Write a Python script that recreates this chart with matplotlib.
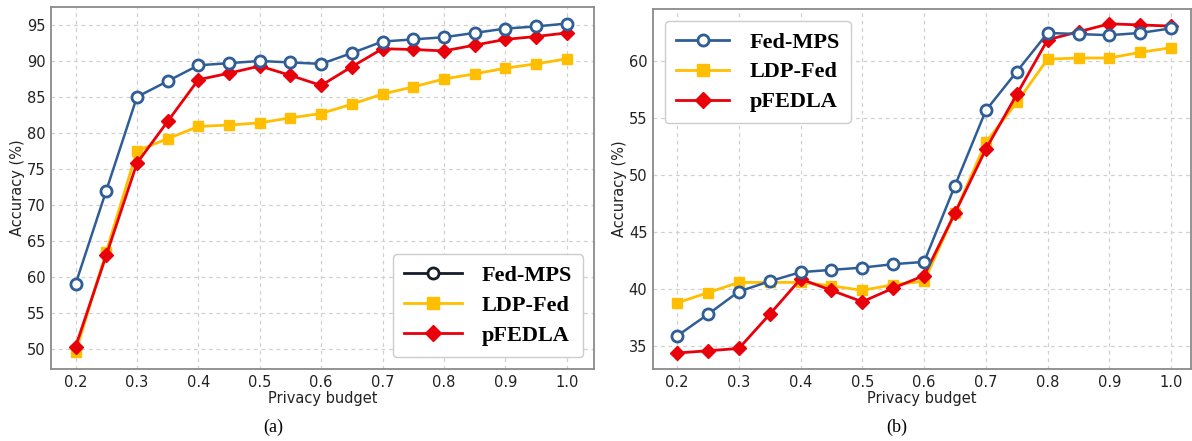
import matplotlib
matplotlib.use("Agg")
import matplotlib.pyplot as plt
from matplotlib.lines import Line2D

budget = [0.2, 0.25, 0.3, 0.35, 0.4, 0.45, 0.5, 0.55, 0.6, 0.65, 0.7, 0.75, 0.8, 0.85, 0.9, 0.95, 1.0]
xticks = [0.2, 0.3, 0.4, 0.5, 0.6, 0.7, 0.8, 0.9, 1.0]

a_fedmps = [59.0, 72.0, 85.0, 87.2, 89.4, 89.7, 90.0, 89.8, 89.6, 91.1, 92.7, 93.0, 93.3, 93.9, 94.5, 94.8, 95.2]
a_ldpfed = [49.5, 63.5, 77.5, 79.2, 80.9, 81.1, 81.4, 82.1, 82.7, 84.0, 85.4, 86.4, 87.5, 88.2, 89.0, 89.6, 90.3]
a_pfedla = [50.3, 63.0, 75.8, 81.6, 87.4, 88.3, 89.3, 88.0, 86.6, 89.2, 91.7, 91.6, 91.4, 92.2, 93.0, 93.4, 93.9]

b_fedmps = [35.9, 37.8, 39.8, 40.7, 41.5, 41.7, 41.9, 42.2, 42.4, 49.1, 55.7, 59.1, 62.5, 62.4, 62.3, 62.5, 62.9]
b_ldpfed = [38.8, 39.7, 40.6, 40.6, 40.6, 40.3, 39.9, 40.4, 40.7, 46.7, 52.9, 56.4, 60.2, 60.3, 60.3, 60.8, 61.2]
b_pfedla = [34.4, 34.6, 34.8, 37.8, 40.9, 39.9, 38.9, 40.1, 41.2, 46.7, 52.3, 57.1, 61.9, 62.6, 63.3, 63.2, 63.1]

labels = ["Fed-MPS", "LDP-Fed", "pFEDLA"]

BLUE = "#2f5d96"
YELLOW = "#ffbf00"
RED = "#e8000b"
NAVY = "#151c2a"

fig = plt.figure(figsize=(11.92, 4.41), dpi=100)
ax1 = fig.add_axes([0.0428, 0.1633, 0.4555, 0.8208])
ax2 = fig.add_axes([0.5478, 0.1633, 0.4513, 0.8163])

def style(ax, xlim, ylim, yticks):
    ax.set_xlim(*xlim)
    ax.set_ylim(*ylim)
    ax.set_xticks(xticks)
    ax.set_xticklabels([f"{t:.1f}" for t in xticks])
    ax.set_yticks(yticks)
    ax.grid(True, linestyle=(0, (3, 3)), color="#d0d0d0", linewidth=0.9)
    ax.set_axisbelow(True)
    for s in ax.spines.values():
        s.set_color("#8a8a8a")
        s.set_linewidth(1.3)
    ax.tick_params(axis="both", length=0, labelsize=10.5, pad=4, colors="#222222")
    ax.set_xlabel("Privacy budget", fontsize=10.5, labelpad=1, color="#222222")
    ax.set_ylabel("Accuracy (%)", fontsize=10.5, labelpad=1, color="#222222")

def plot_series(ax, fm, ld, pf):
    ax.plot(budget, ld, color=YELLOW, marker="s", markersize=7.5, linewidth=2, zorder=3)
    ax.plot(budget, pf, color=RED, marker="D", markersize=7.5, linewidth=2, zorder=4)
    ax.plot(budget, fm, color=BLUE, marker="o", markersize=8, markerfacecolor="white",
            markeredgewidth=2, linewidth=1.8, zorder=5)

plot_series(ax1, a_fedmps, a_ldpfed, a_pfedla)
plot_series(ax2, b_fedmps, b_ldpfed, b_pfedla)

style(ax1, (0.160, 1.0445), (47.2, 97.5), [50, 55, 60, 65, 70, 75, 80, 85, 90, 95])
style(ax2, (0.161, 1.032), (33.0, 64.6), [35, 40, 45, 50, 55, 60])

legfont = {"family": "Liberation Serif", "weight": "bold", "size": 16}

h1 = [Line2D([], [], color=NAVY, marker="o", markersize=8, markerfacecolor="white", markeredgewidth=2, linewidth=2),
      Line2D([], [], color=YELLOW, marker="s", markersize=8, linewidth=2),
      Line2D([], [], color=RED, marker="D", markersize=8, linewidth=2)]
leg1 = ax1.legend(h1, labels, loc="lower right", prop=legfont, handlelength=2.6,
                  borderpad=0.5, labelspacing=0.42, handletextpad=0.9, borderaxespad=0,
                  bbox_to_anchor=(0.980, 0.033), framealpha=1, edgecolor="#cccccc")
h2 = [Line2D([], [], color=BLUE, marker="o", markersize=8, markerfacecolor="white", markeredgewidth=2, linewidth=2),
      Line2D([], [], color=YELLOW, marker="s", markersize=8, linewidth=2),
      Line2D([], [], color=RED, marker="D", markersize=8, linewidth=2)]
leg2 = ax2.legend(h2, labels, loc="upper left", prop=legfont, handlelength=2.4,
                  borderpad=0.5, labelspacing=0.42, handletextpad=0.9, borderaxespad=0,
                  bbox_to_anchor=(0.022, 0.967), framealpha=1, edgecolor="#cccccc")

fig.text(0.229, 0.03, "(a)", ha="center", va="center", fontsize=13, family="Liberation Serif")
fig.text(0.752, 0.03, "(b)", ha="center", va="center", fontsize=13, family="Liberation Serif")

fig.savefig("out.png", dpi=100)
